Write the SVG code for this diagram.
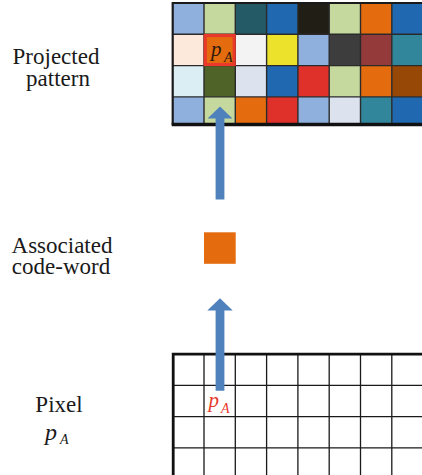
<svg xmlns="http://www.w3.org/2000/svg" width="422" height="475" viewBox="0 0 422 475">
<style>
.lbl{font-family:"Liberation Serif","Times New Roman",serif;font-size:23px;fill:#1a1a1a;text-anchor:middle}
.it{font-family:"Liberation Serif","Times New Roman",serif;font-style:italic}
.gl{stroke:#2a2a2a;stroke-width:1.4;fill:none}
.pl{stroke:#1a1a1a;stroke-width:1.3;fill:none}
.arr{fill:#4f81bd}
</style>
<rect width="422" height="475" fill="#ffffff"/>
<g id="label-projected"><text class="lbl" x="56" y="64">Projected</text><text class="lbl" x="58" y="86">pattern</text></g>
<g id="label-associated"><text class="lbl" x="62" y="253">Associated</text><text class="lbl" x="61" y="274">code-word</text></g>
<g id="label-pixel"><text class="lbl" x="59" y="412">Pixel</text><text class="it" x="45" y="440" font-size="24" fill="#1a1a1a">p</text><text class="it" x="60" y="444" font-size="14" fill="#1a1a1a">A</text></g>
<g id="projected-pattern">
<g transform="translate(172.7,3)">
<rect x="0" y="0" width="31.3" height="31.3" fill="#8fb0dc"/><rect x="31.3" y="0" width="31.3" height="31.3" fill="#c5d89e"/><rect x="62.6" y="0" width="31.3" height="31.3" fill="#245a66"/><rect x="93.9" y="0" width="31.3" height="31.3" fill="#2068b0"/><rect x="125.2" y="0" width="31.3" height="31.3" fill="#211e16"/><rect x="156.5" y="0" width="31.3" height="31.3" fill="#c5d89e"/><rect x="187.8" y="0" width="31.3" height="31.3" fill="#e46c0e"/><rect x="219.1" y="0" width="31.3" height="31.3" fill="#2068b0"/>
<rect x="0" y="31.3" width="31.3" height="31.3" fill="#fde9db"/><rect x="31.3" y="31.3" width="31.3" height="31.3" fill="#e46c0e"/><rect x="62.6" y="31.3" width="31.3" height="31.3" fill="#f3f3f3"/><rect x="93.9" y="31.3" width="31.3" height="31.3" fill="#ece22c"/><rect x="125.2" y="31.3" width="31.3" height="31.3" fill="#8fb0dc"/><rect x="156.5" y="31.3" width="31.3" height="31.3" fill="#3d3d3d"/><rect x="187.8" y="31.3" width="31.3" height="31.3" fill="#953a3a"/><rect x="219.1" y="31.3" width="31.3" height="31.3" fill="#31869b"/>
<rect x="0" y="62.6" width="31.3" height="31.3" fill="#dbeef4"/><rect x="31.3" y="62.6" width="31.3" height="31.3" fill="#4f6228"/><rect x="62.6" y="62.6" width="31.3" height="31.3" fill="#dce3ef"/><rect x="93.9" y="62.6" width="31.3" height="31.3" fill="#2068b0"/><rect x="125.2" y="62.6" width="31.3" height="31.3" fill="#e0302a"/><rect x="156.5" y="62.6" width="31.3" height="31.3" fill="#c5d89e"/><rect x="187.8" y="62.6" width="31.3" height="31.3" fill="#e46c0e"/><rect x="219.1" y="62.6" width="31.3" height="31.3" fill="#974806"/>
<rect x="0" y="93.9" width="31.3" height="29" fill="#8fb0dc"/><rect x="31.3" y="93.9" width="31.3" height="29" fill="#c5d89e"/><rect x="62.6" y="93.9" width="31.3" height="29" fill="#e46c0e"/><rect x="93.9" y="93.9" width="31.3" height="29" fill="#e0302a"/><rect x="125.2" y="93.9" width="31.3" height="29" fill="#8fb0dc"/><rect x="156.5" y="93.9" width="31.3" height="29" fill="#dce3ef"/><rect x="187.8" y="93.9" width="31.3" height="29" fill="#31869b"/><rect x="219.1" y="93.9" width="31.3" height="29" fill="#2068b0"/>
<path class="gl" d="M31.3 0V122M62.6 0V122M93.9 0V122M125.2 0V122M156.5 0V122M187.8 0V122M219.1 0V122M0 31.3H250M0 62.6H250M0 93.9H250"/>
<path d="M0 122V0H250" fill="none" stroke="#1a1a1a" stroke-width="2.2"/>
<path d="M-1 121.5H250" stroke="#111" stroke-width="3.5"/>
<rect x="32.5" y="32.5" width="29" height="29" fill="#e46c0e" stroke="#e8392b" stroke-width="3.2"/>
</g>
<text class="it" x="211" y="56" font-size="21" fill="#2a1a0a">p</text><text class="it" x="224" y="62" font-size="14" fill="#2a1a0a">A</text>
</g>
<g id="code-word"><rect x="204" y="232.3" width="31.7" height="31.5" fill="#e46c0e"/></g>
<g id="pixel-grid">
<path class="pl" d="M204 354V475M235.3 354V475M266.6 354V475M297.9 354V475M329.2 354V475M360.5 354V475M391.8 354V475M173 385.3H422M173 416.6H422M173 447.9H422"/>
<path d="M173.2 475V354.2H422" fill="none" stroke="#111" stroke-width="2.8"/>
</g>
<g id="connectors">
<path class="arr" d="M215.6 199.5V118.5H207.5L220 106.5L232.5 118.5H224.4V199.5Z"/>
<path class="arr" d="M215.6 390.7V310.5H207.3L220 298.3L232.7 310.5H224.4V390.7Z"/>
</g>
<g id="pixel-label"><text class="it" x="208.5" y="407" font-size="21" fill="#e8392b">p</text><text class="it" x="221" y="413" font-size="14" fill="#e8392b">A</text></g>
</svg>
